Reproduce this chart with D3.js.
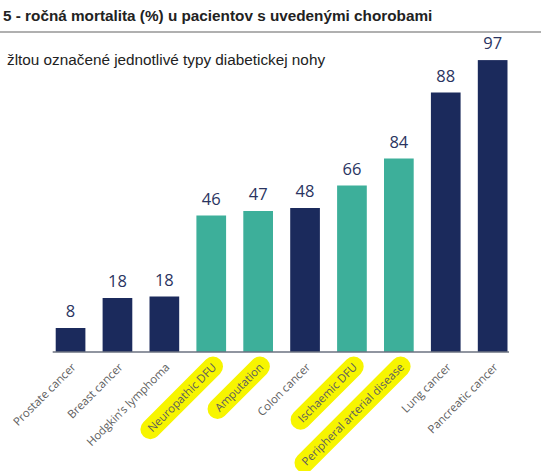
<!DOCTYPE html>
<html><head><meta charset="utf-8">
<script src="https://cdn.jsdelivr.net/npm/d3@7"></script>
<style>body{margin:0;background:#fff}svg{display:block}</style>
</head><body>
<script>
const categories = ["Prostate cancer","Breast cancer","Hodgkin\u2019s lymphoma","Neuropathic DFU","Amputation","Colon cancer","Ischaemic DFU","Peripheral arterial disease","Lung cancer","Pancreatic cancer"];
const mortality = [8,18,18,46,47,48,66,84,88,97];           // printed labels
const barHeights = [8,18,18.5,45.5,47,48,55.5,64.5,86.5,97.3]; // bar heights as drawn in the picture
const diabetic = [false,false,false,true,true,false,true,true,false,false];
const titleText = "5 - ročná mortalita (%) u pacientov s uvedenými chorobami";
const subtitleText = "žltou označené jednotlivé typy diabetickej nohy";

const W=541,H=471;
const svg=d3.select("body").append("svg").attr("width",W).attr("height",H);
const navy="#1b2a5c", teal="#3daf9a";

const x=d3.scaleBand().domain(categories).range([47.1,516.1]).paddingInner(0.367).paddingOuter(0.1835);
const y=d3.scaleLinear().domain([0,100]).range([352,52]);

svg.append("text").attr("x",3).attr("y",21).attr("font-family","Liberation Sans, Arial, sans-serif")
  .attr("font-weight","bold").attr("font-size",15.3).attr("fill","#222").text(titleText);
svg.append("rect").attr("x",0).attr("y",31).attr("width",W).attr("height",2).attr("fill","#b0b0b0");
svg.append("text").attr("x",7).attr("y",65).attr("font-family","Liberation Sans, Arial, sans-serif")
  .attr("font-size",15.3).attr("fill","#222").text(subtitleText);

const data=categories.map((c,i)=>({c,v:mortality[i],h:barHeights[i],d:diabetic[i]}));

svg.selectAll("rect.bar").data(data).join("rect").attr("class","bar")
  .attr("x",d=>x(d.c)).attr("width",x.bandwidth())
  .attr("y",d=>y(d.h)).attr("height",d=>y(0)-y(d.h))
  .attr("fill",d=>d.d?teal:navy);

svg.selectAll("text.val").data(data).join("text").attr("class","val")
  .attr("x",d=>x(d.c)+x.bandwidth()/2).attr("y",d=>y(d.h)-11)
  .attr("text-anchor","middle").attr("font-family","Open Sans, sans-serif")
  .attr("font-size",16.5).attr("fill","#2a3461").text(d=>d.v);

// axis
const axis=svg.append("g").attr("transform",`translate(0,${y(0)})`)
  .call(d3.axisBottom(x).tickSize(0).tickPadding(0));
axis.select(".domain").attr("d",`M${x(categories[0])-3},0H${x(categories[9])+x.bandwidth()+1.5}`)
  .attr("stroke","#6b7280").attr("stroke-width",1.5);
axis.selectAll(".tick text").remove();

const lab=svg.append("g");
const ticks=lab.selectAll("g").data(data).join("g")
  .attr("transform",d=>`translate(${x(d.c)+x.bandwidth()/2+6},${y(0)+16}) rotate(-45)`);
ticks.each(function(d){
  const g=d3.select(this);
  const t=g.append("text").attr("text-anchor","end").attr("font-family","Open Sans, sans-serif")
    .attr("font-size",11.4).attr("fill","#5e5e5e").text(d.c);
  if(d.d){
    const w=t.node().getComputedTextLength();
    g.insert("path","text").attr("d",`M${-w+1},-4H-2`).attr("stroke","#f7f500")
      .attr("stroke-width",20).attr("stroke-linecap","round").attr("fill","none");
  }
});
</script>
</body></html>
